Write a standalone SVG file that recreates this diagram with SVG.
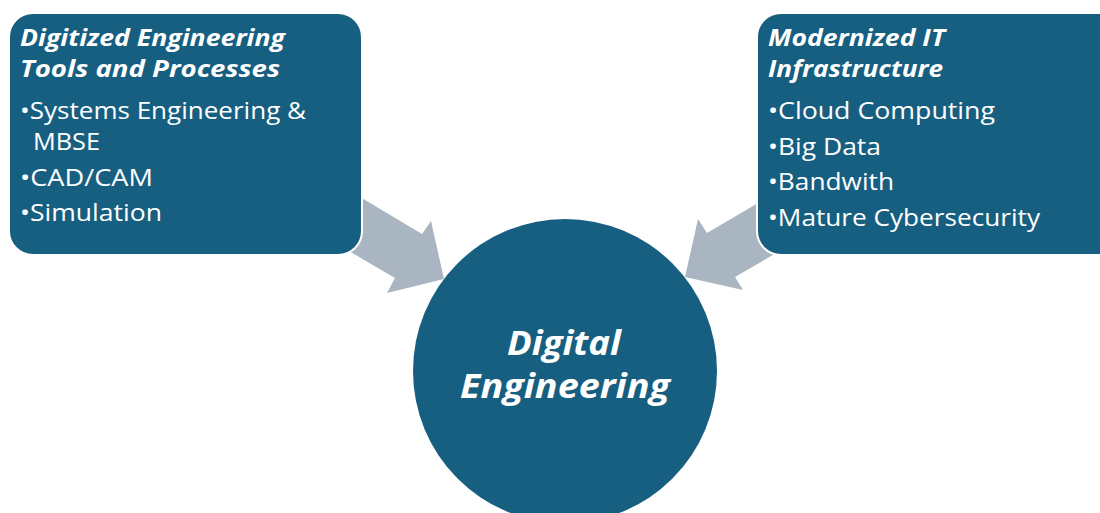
<svg xmlns="http://www.w3.org/2000/svg" width="1100" height="513" viewBox="0 0 1100 513">
<style>
.box{fill:#175f81;stroke:#ffffff;stroke-width:2}
.arrow{fill:#a9b5c1}
.h{font-family:"Open Sans","Liberation Sans",sans-serif;font-weight:bold;font-style:italic;font-size:23px;fill:#ffffff}
.b{font-family:"Open Sans","Liberation Sans",sans-serif;font-size:23.5px;fill:#ffffff}
.c{font-family:"Open Sans","Liberation Sans",sans-serif;font-weight:bold;font-style:italic;font-size:34px;fill:#ffffff}
</style>
<rect width="1100" height="513" fill="#ffffff"/>
<g id="connectors">
<polygon class="arrow" points="340,185 422,234 431,221 444,279 387,293 395,278 330,240"/>
<polygon class="arrow" points="780,190 707,233 698,219 685,277 743,290 735,277 790,245"/>
</g>
<g id="node-tools">
<rect class="box" x="9" y="13" width="353" height="242" rx="24"/>
<text class="h" x="20" y="46" textLength="265" lengthAdjust="spacingAndGlyphs">Digitized Engineering</text>
<text class="h" x="20" y="77" textLength="260" lengthAdjust="spacingAndGlyphs">Tools and Processes</text>
<text class="b" x="20" y="119" textLength="286" lengthAdjust="spacingAndGlyphs">•Systems Engineering &amp;</text>
<text class="b" x="33" y="150" textLength="67" lengthAdjust="spacingAndGlyphs">MBSE</text>
<text class="b" x="20" y="186" textLength="133" lengthAdjust="spacingAndGlyphs">•CAD/CAM</text>
<text class="b" x="20" y="221" textLength="142" lengthAdjust="spacingAndGlyphs">•Simulation</text>
</g>
<g id="node-it">
<rect class="box" x="757" y="13" width="370" height="242" rx="24"/>
<text class="h" x="768" y="46" textLength="177" lengthAdjust="spacingAndGlyphs">Modernized IT</text>
<text class="h" x="768" y="77" textLength="175" lengthAdjust="spacingAndGlyphs">Infrastructure</text>
<text class="b" x="768" y="119" textLength="227" lengthAdjust="spacingAndGlyphs">•Cloud Computing</text>
<text class="b" x="768" y="155" textLength="113" lengthAdjust="spacingAndGlyphs">•Big Data</text>
<text class="b" x="768" y="190" textLength="126" lengthAdjust="spacingAndGlyphs">•Bandwith</text>
<text class="b" x="768" y="226" textLength="272" lengthAdjust="spacingAndGlyphs">•Mature Cybersecurity</text>
</g>
<g id="node-de">
<circle cx="565" cy="371" r="152" fill="#175f81"/>
<text class="c" x="507" y="355" textLength="114" lengthAdjust="spacingAndGlyphs">Digital</text>
<text class="c" x="460" y="398" textLength="210" lengthAdjust="spacingAndGlyphs">Engineering</text>
</g>
</svg>
